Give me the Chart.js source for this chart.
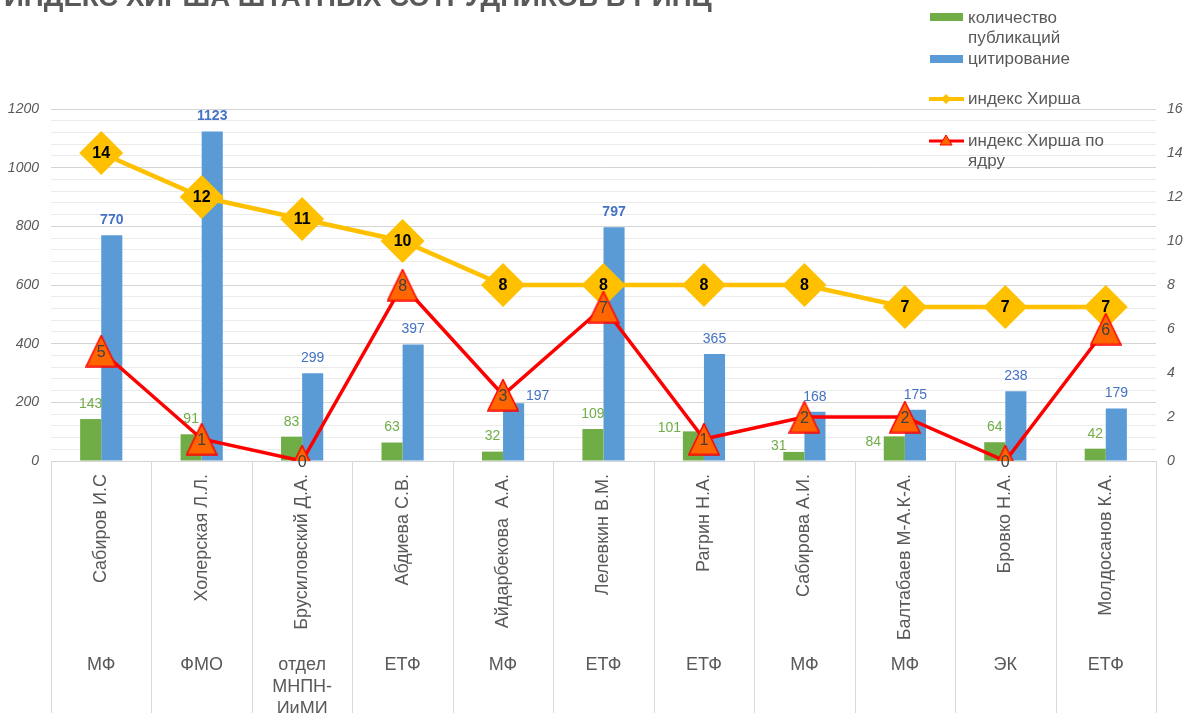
<!DOCTYPE html>
<html><head><meta charset="utf-8">
<script src="https://cdn.jsdelivr.net/npm/chart.js@4.4.1/dist/chart.umd.min.js"></script>
<style>html,body{margin:0;padding:0;background:#fff;overflow:hidden}#wrap{position:relative;width:1185px;height:713px}</style>
</head><body><div id="wrap"><canvas id="c" width="1185" height="713"></canvas></div>
<script>
const titleText = "ИНДЕКС ХИРША ШТАТНЫХ СОТРУДНИКОВ В РИНЦ";
const names = ["Сабиров И.С","Холерская Л.Л.","Брусиловский Д.А.","Абдиева С.В.","Айдарбекова  А.А.","Лелевкин В.М.","Рагрин Н.А.","Сабирова А.И.","Балтабаев М-А.К-А.","Бровко Н.А.","Молдосанов К.А."];
const departments = [["МФ"],["ФМО"],["отдел","МНПН-","ИиМИ"],["ЕТФ"],["МФ"],["ЕТФ"],["ЕТФ"],["МФ"],["МФ"],["ЭК"],["ЕТФ"]];
const publications = [143,91,83,63,32,109,101,31,84,64,42];
const citations = [770,1123,299,397,197,797,365,168,175,238,179];
const hirsch = [14,12,11,10,8,8,8,8,7,7,7];
const hirschCore = [5,1,0,8,3,7,1,2,2,0,6];
const seriesNames = ["количество публикаций","цитирование","индекс Хирша","индекс Хирша по ядру"];
const leftTicks = [0,200,400,600,800,1000,1200];
const rightTicks = [0,2,4,6,8,10,12,14,16];

const FONT = "'Liberation Sans', Arial, sans-serif";
const GREY = '#595959';
const GREEN = '#70AD47', BLUE = '#5B9BD5', GOLD = '#FFC000', RED = '#FF0000', ORANGE = '#FF6600';

// label style adjustments (manual moves as in the original)
const pubLabelShift = {6:[-24,12], 7:[-15,9], 8:[-21,21]};
const citLabelShift = {4:[24,8]};
const citBold = {0:true,1:true,5:true};

function makeTriangle(w,h){
  const c=document.createElement('canvas'); c.width=w+2; c.height=h+2;
  const g=c.getContext('2d');
  g.beginPath(); g.moveTo((w+2)/2,1); g.lineTo(w+1,h+1); g.lineTo(1,h+1); g.closePath();
  g.fillStyle=ORANGE; g.fill(); g.lineWidth=1.5; g.strokeStyle=RED; g.stroke();
  return c;
}
const triImg = makeTriangle(30,31);

const decorPlugin = {
  id:'decor',
  afterDraw(chart){
    const ctx=chart.ctx, xs=chart.scales.x, area=chart.chartArea;
    ctx.save();
    // title (partly cut off at the top)
    ctx.font = "bold 27.6px "+FONT; ctx.fillStyle=GREY; ctx.textAlign='left'; ctx.textBaseline='alphabetic';
    ctx.fillText(titleText, 4, 6);
    // separators below plot
    ctx.strokeStyle='#D9D9D9'; ctx.lineWidth=1;
    const n=names.length, cw=(area.right-area.left)/n;
    for(let i=0;i<=n;i++){
      const x=Math.round(area.left+i*cw)+0.5;
      ctx.beginPath(); ctx.moveTo(x,area.bottom); ctx.lineTo(x,chart.height); ctx.stroke();
    }
    // departments
    ctx.font="18px "+FONT; ctx.fillStyle=GREY; ctx.textAlign='center'; ctx.textBaseline='middle';
    departments.forEach((d,i)=>{
      const x=xs.getPixelForValue(i);
      d.forEach((line,j)=>ctx.fillText(line,x,665+j*22));
    });
    // legend
    ctx.textAlign='left'; ctx.font="17px "+FONT; ctx.fillStyle=GREY;
    ctx.fillStyle=GREEN; ctx.fillRect(930,13,33,8);
    ctx.fillStyle=BLUE; ctx.fillRect(930,55,33,8);
    ctx.strokeStyle=GOLD; ctx.lineWidth=4; ctx.beginPath(); ctx.moveTo(929,99); ctx.lineTo(964,99); ctx.stroke();
    ctx.fillStyle=GOLD; ctx.beginPath(); ctx.moveTo(946,94); ctx.lineTo(951,99); ctx.lineTo(946,104); ctx.lineTo(941,99); ctx.closePath(); ctx.fill();
    ctx.strokeStyle=RED; ctx.lineWidth=3; ctx.beginPath(); ctx.moveTo(929,141); ctx.lineTo(964,141); ctx.stroke();
    ctx.fillStyle=ORANGE; ctx.strokeStyle=RED; ctx.lineWidth=1;
    ctx.beginPath(); ctx.moveTo(946,135); ctx.lineTo(952,145); ctx.lineTo(940,145); ctx.closePath(); ctx.fill(); ctx.stroke();
    ctx.fillStyle=GREY;
    ctx.fillText("количество",968,18);
    ctx.fillText("публикаций",968,38);
    ctx.fillText("цитирование",968,59);
    ctx.fillText("индекс Хирша",968,99);
    ctx.fillText("индекс Хирша по",968,141);
    ctx.fillText("ядру",968,161);
    ctx.restore();
  },
  afterDatasetsDraw(chart){
    const ctx=chart.ctx;
    ctx.save(); ctx.textAlign='center'; ctx.textBaseline='middle';
    const m0=chart.getDatasetMeta(0), m1=chart.getDatasetMeta(1), m2=chart.getDatasetMeta(2), m3=chart.getDatasetMeta(3);
    publications.forEach((v,i)=>{
      const el=m0.data[i], s=pubLabelShift[i]||[0,0];
      ctx.font="14px "+FONT; ctx.fillStyle=GREEN;
      ctx.fillText(String(v), el.x+s[0], el.y-15+s[1]);
    });
    citations.forEach((v,i)=>{
      const el=m1.data[i], s=citLabelShift[i]||[0,0];
      ctx.font=(citBold[i]?"bold ":"")+"14px "+FONT; ctx.fillStyle='#4472C4';
      ctx.fillText(String(v), el.x+s[0], el.y-15+s[1]);
    });
    hirsch.forEach((v,i)=>{
      const el=m2.data[i];
      ctx.font="bold 16px "+FONT; ctx.fillStyle='#000';
      ctx.fillText(String(v), el.x, el.y+1);
    });
    hirschCore.forEach((v,i)=>{
      const el=m3.data[i];
      ctx.font="16px "+FONT; ctx.fillStyle='#404040';
      ctx.fillText(String(v), el.x, el.y+2);
    });
    ctx.restore();
  }
};

new Chart(document.getElementById('c'), {
  data:{
    labels:names,
    datasets:[
      {type:'bar',label:seriesNames[0],data:publications,backgroundColor:GREEN,yAxisID:'y',order:2,categoryPercentage:0.42,barPercentage:1},
      {type:'bar',label:seriesNames[1],data:citations,backgroundColor:BLUE,yAxisID:'y',order:2,categoryPercentage:0.42,barPercentage:1},
      {type:'line',label:seriesNames[2],data:hirsch,borderColor:GOLD,borderWidth:4.5,backgroundColor:GOLD,pointStyle:'rectRot',pointRadius:22,pointBorderWidth:0,pointBackgroundColor:GOLD,yAxisID:'y1',order:1,tension:0},
      {type:'line',label:seriesNames[3],data:hirschCore,borderColor:RED,borderWidth:3.5,pointStyle:triImg,pointRadius:15,yAxisID:'y1',order:0,tension:0}
    ]
  },
  options:{
    responsive:false, animation:false, devicePixelRatio:1,
    layout:{padding:{top:109,left:0,right:0,bottom:0}},
    plugins:{legend:{display:false},title:{display:false},tooltip:{enabled:false}},
    scales:{
      x:{
        grid:{display:false,drawTicks:false}, border:{display:false},
        ticks:{autoSkip:false,maxRotation:90,minRotation:90,padding:13,color:GREY,font:{family:FONT,size:18}},
        afterFit:s=>{s.height=252;}
      },
      y:{
        position:'left',min:0,max:1200,
        grid:{drawTicks:false,color:c=>(c.tick&&c.tick.value%200===0)?'#D4D4D4':'#EBEBEB',lineWidth:1},
        border:{display:false},
        ticks:{stepSize:40,maxTicksLimit:100,autoSkip:false,padding:12,color:GREY,font:{family:FONT,size:14,style:'italic'},
          callback:v=>leftTicks.includes(v)?String(v):''},
        afterFit:s=>{s.width=51;}
      },
      y1:{
        position:'right',min:0,max:16,
        grid:{drawOnChartArea:false,drawTicks:false}, border:{display:false},
        ticks:{stepSize:2,autoSkip:false,padding:11,color:GREY,font:{family:FONT,size:14,style:'italic'},
          callback:v=>rightTicks.includes(v)?String(v):''},
        afterFit:s=>{s.width=29;}
      }
    }
  },
  plugins:[decorPlugin]
});
</script></body></html>
